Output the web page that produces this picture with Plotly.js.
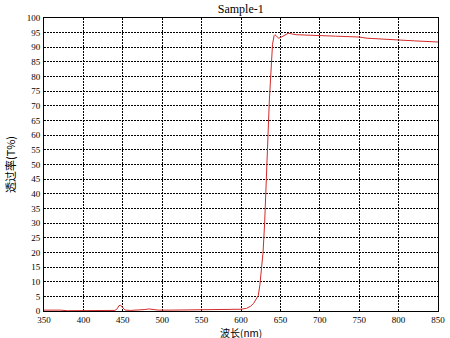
<!DOCTYPE html>
<html>
<head>
<meta charset="utf-8">
<script src="https://cdn.plot.ly/plotly-3.0.1.min.js"></script>
<style>html,body{margin:0;padding:0;background:#fff;}#chart{width:450px;height:338px;}</style>
</head>
<body>
<div id="chart"></div>
<script>
const wavelength = [350, 360, 370, 380, 400, 420, 435, 440, 443, 445, 447, 450, 453, 460, 470, 478, 483, 488, 495, 510, 530, 550, 570, 590, 600, 607, 612, 616, 619, 622, 624, 626, 628, 630, 632, 634, 636, 638, 640, 642, 643, 645, 648, 652, 656, 660, 664, 670, 680, 690, 700, 720, 740, 750, 760, 780, 800, 820, 840, 850];
const transmittance = [0.3, 0.4, 0.3, 0.1, 0.1, 0.1, 0.1, 0.2, 0.8, 1.8, 2.0, 1.2, 0.3, 0.2, 0.3, 0.5, 0.7, 0.5, 0.3, 0.3, 0.4, 0.4, 0.4, 0.5, 0.6, 0.9, 1.6, 2.6, 3.8, 5.3, 9, 14, 20, 30, 42, 58, 72, 84, 91, 94, 94.3, 93.8, 93.1, 93.6, 94.3, 94.8, 94.6, 94.3, 94.2, 94.0, 94.0, 93.8, 93.6, 93.5, 93.1, 92.7, 92.5, 92.2, 92.0, 91.8];
const chartTitle = "Sample-1";
const xLabel = "波长(nm)";
const yLabel = "透过率(T%)";

const serif = "Liberation Serif, Times New Roman, serif";
const cjk = "Noto Sans CJK SC, sans-serif";

Plotly.newPlot("chart", [{
  x: wavelength, y: transmittance, type: "scatter", mode: "lines",
  line: {color: "#d42a2a", width: 1}, hoverinfo: "skip"
}], {
  width: 450, height: 338,
  margin: {l: 44, r: 12, t: 18, b: 27},
  paper_bgcolor: "#fff", plot_bgcolor: "#fff",
  showlegend: false,
  title: {text: chartTitle, font: {family: serif, size: 12, color: "#000"}, x: 0.535, xanchor: "center", y: 0.975, yanchor: "middle"},
  xaxis: {
    range: [350, 850], dtick: 50, tick0: 350,
    showline: true, mirror: true, linecolor: "#000", linewidth: 1,
    showgrid: true, gridcolor: "#000", gridwidth: 1, griddash: "2px,1px",
    zeroline: false, ticks: "", ticklabelstandoff: 0,
    tickfont: {family: serif, size: 9, color: "#000"}
  },
  yaxis: {
    range: [0, 100], dtick: 5, tick0: 0,
    showline: true, mirror: true, linecolor: "#000", linewidth: 1,
    showgrid: true, gridcolor: "#000", gridwidth: 1, griddash: "2px,1px",
    zeroline: false, ticks: "", ticklabelstandoff: 1,
    tickfont: {family: serif, size: 9, color: "#000"},
    title: {text: yLabel, font: {family: cjk, size: 11, color: "#000"}, standoff: 8}
  },
  annotations: [{
    text: xLabel, xref: "paper", yref: "paper", x: 0.5, y: 0, xanchor: "center", yanchor: "middle",
    yshift: -21, showarrow: false, font: {family: cjk, size: 10, color: "#000"}
  }]
}, {staticPlot: true, displayModeBar: false});
</script>
</body>
</html>
